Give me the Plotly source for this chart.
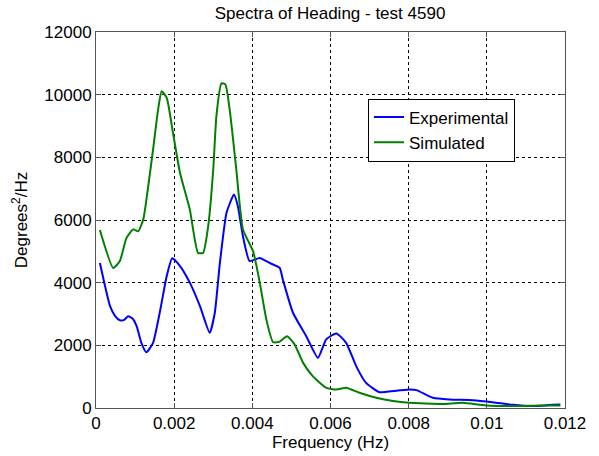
import plotly.graph_objects as go

exp_f = [0.0001, 0.00036, 0.00049, 0.00061, 0.00072, 0.00082, 0.00094, 0.00104, 0.00116, 0.00129, 0.00146, 0.00163,
         0.00181, 0.00195, 0.00215, 0.0024, 0.00266, 0.00291, 0.00304, 0.00317, 0.00334, 0.00353, 0.00363,
         0.00376, 0.00393, 0.00419, 0.00444, 0.0047, 0.00478, 0.00504, 0.00538, 0.00568, 0.00589, 0.00615,
         0.0064, 0.00666, 0.00691, 0.00725, 0.00743, 0.00802, 0.0082, 0.00862, 0.00904, 0.00964, 0.01015,
         0.01066, 0.01117, 0.01168, 0.01188]
exp_v = [4630, 3250, 2930, 2800, 2810, 2930, 2850, 2610, 2080, 1780, 2080, 3040,
         4210, 4780, 4530, 4000, 3250, 2400, 3040, 4630, 6230, 6810, 6440,
         5480, 4690, 4790, 4630, 4470, 4100, 3040, 2290, 1600, 2190, 2380,
         2080, 1330, 800, 505, 515, 590, 570, 325, 270, 250, 185,
         100, 60, 100, 110]

sim_f = [0.0001, 0.00044, 0.00061, 0.00078, 0.00095, 0.00108, 0.00121, 0.00129, 0.00146, 0.00159, 0.00168,
         0.00181, 0.00197, 0.00215, 0.0024, 0.00261, 0.00274, 0.00287, 0.003, 0.00308, 0.00321, 0.00331,
         0.00342, 0.00359, 0.00376, 0.00402, 0.00419, 0.00436, 0.00453, 0.0047, 0.00489, 0.00508, 0.0053,
         0.00555, 0.00589, 0.00615, 0.0064, 0.00674, 0.00717, 0.0076, 0.00802, 0.00887, 0.00938, 0.00998,
         0.01075, 0.01134, 0.01188]
sim_v = [5680, 4470, 4690, 5430, 5700, 5640, 6020, 6650, 8250, 9530, 10110,
         9900, 8780, 7500, 6340, 4950, 4950, 5800, 7610, 9310, 10360, 10330,
         9530, 7610, 5700, 5000, 4000, 2820, 2100, 2120, 2290, 2030, 1440,
         1010, 645, 590, 645, 485, 325, 220, 165, 130, 165, 80,
         60, 80, 80]

x_ticks = [0, 0.002, 0.004, 0.006, 0.008, 0.01, 0.012]
x_tick_labels = ["0", "0.002", "0.004", "0.006", "0.008", "0.01", "0.012"]
y_ticks = [0, 2000, 4000, 6000, 8000, 10000, 12000]
y_tick_labels = ["0", "2000", "4000", "6000", "8000", "10000", "12000"]

FONT = "Liberation Sans, Arial, sans-serif"
FS = 17

fig = go.Figure()
fig.add_trace(go.Scatter(x=exp_f, y=exp_v, mode="lines", name="Experimental",
                         line=dict(color="#0000FF", width=2, shape="spline", smoothing=0.5)))
fig.add_trace(go.Scatter(x=sim_f, y=sim_v, mode="lines", name="Simulated",
                         line=dict(color="#008000", width=2, shape="spline", smoothing=0.5)))

axis_common = dict(showline=True, linecolor="#555555", linewidth=1, mirror="ticks",
                   ticks="inside", ticklen=5, tickcolor="#555555", automargin=False,
                   showgrid=True, gridcolor="black", gridwidth=1, griddash="3px,3px",
                   zeroline=False, tickfont=dict(family=FONT, size=FS, color="black"))

fig.update_xaxes(range=[0, 0.012], tickvals=x_ticks, ticktext=x_tick_labels,
                 title=dict(text="Frequency (Hz)", font=dict(family=FONT, size=FS, color="black"), standoff=2),
                 **axis_common)
fig.update_yaxes(range=[0, 12000], tickvals=y_ticks, ticktext=y_tick_labels,
                 title=dict(text="Degrees<sup>2</sup>/Hz", font=dict(family=FONT, size=FS, color="black"), standoff=12),
                 **axis_common)

fig.update_layout(
    width=599, height=456,
    margin=dict(l=96, r=34, t=32, b=48, autoexpand=False),
    paper_bgcolor="white", plot_bgcolor="white",
    title=dict(text="Spectra of Heading - test 4590", x=0.551, xanchor="center",
               y=1 - 13 / 456, yanchor="middle", automargin=False,
               font=dict(family=FONT, size=FS, color="black")),
    legend=dict(x=0.58, y=0.823, xanchor="left", yanchor="top", bgcolor="white",
                bordercolor="black", borderwidth=1,
                font=dict(family=FONT, size=FS, color="black"), tracegroupgap=0),
    showlegend=True,
)

fig.write_html("out.html", config={"displayModeBar": False},
               post_script="document.body.style.margin='0px';")
